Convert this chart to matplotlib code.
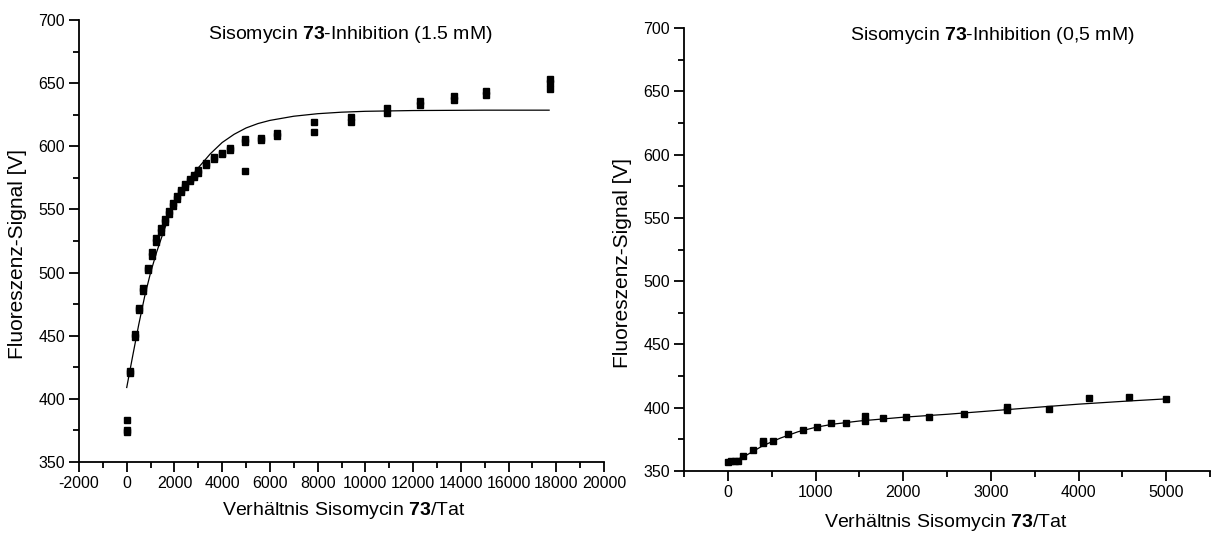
import matplotlib
matplotlib.use('Agg')
import matplotlib.pyplot as plt
from matplotlib.ticker import MultipleLocator

plt.rcParams['font.family'] = ['Liberation Sans', 'DejaVu Sans']
plt.rcParams['mathtext.fontset'] = 'custom'
plt.rcParams['mathtext.rm'] = 'Liberation Sans'
plt.rcParams['mathtext.bf'] = 'Liberation Sans:bold'
plt.rcParams['axes.unicode_minus'] = False

# left panel: 1.5 mM, measured points (replicates share x)
x_15 = [0, 0, 0, 155, 155, 342, 342, 513, 513, 700, 700, 872, 872,
        1042, 1042, 1230, 1230, 1418, 1418, 1589, 1589, 1760, 1760,
        1931, 1931, 2119, 2119, 2290, 2290, 2461, 2461, 2649, 2649,
        2803, 2803, 2974, 2974, 3315, 3315, 3657, 3657, 3982, 3982,
        4324, 4324, 4973, 4973, 4973, 5640, 5640, 6306, 6306,
        7861, 7861, 9382, 9382, 10886, 10886, 12305, 12305,
        13706, 13706, 15073, 15073, 17722, 17722, 17722]
y_15 = [383.5, 375.5, 373.5, 422, 420.5, 451.5, 449, 472, 470.5, 488, 485.5,
        504, 502, 516, 513, 527, 524.5, 535, 532, 542.5, 540, 548.5, 546,
        555, 553, 561, 558.5, 565.5, 563.5, 570, 568, 574, 572.5,
        577.5, 575.5, 581.5, 579, 586.5, 585, 591.5, 590, 595, 593.5,
        599, 597, 605.5, 603, 580.5, 606.5, 605, 610.5, 608,
        619.5, 611.5, 623.5, 619.5, 630, 626, 635.5, 632.5,
        640, 637, 644, 641, 653, 650.5, 645.5]

# left panel: fitted curve
fit_x_15 = [0, 250, 500, 750, 1000, 1250, 1500, 1750, 2000, 2500, 3000,
            3500, 4000, 4500, 5000, 5500, 6000, 7000, 8000, 9000, 10000,
            12000, 15000, 17700]
fit_y_15 = [409, 434, 458.5, 481, 500, 516, 530, 543, 554.5, 570.5, 583,
            594, 603, 609.5, 614.5, 618, 620.5, 623.8, 625.8, 627, 627.7,
            628.3, 628.6, 628.6]

# right panel: 0.5 mM
x_05 = [0, 40, 80, 120, 174, 289, 400, 400, 516, 681, 855, 1020, 1175,
        1349, 1563, 1563, 1768, 2030, 2289, 2694, 3183, 3183, 3664,
        4123, 4573, 5000]
y_05 = [357.3, 357.6, 357.8, 357.8, 362.2, 366.8, 372, 374, 373.8, 379.2,
        382.4, 385.1, 388.2, 387.8, 389.5, 393.5, 391.6, 392.7, 392.7,
        395.4, 398, 400.3, 399.2, 407.6, 408.1, 406.8]

fit_x_05 = [0, 200, 400, 600, 800, 1000, 1200, 1500, 2000, 2500, 3000,
            3500, 4000, 4500, 5000]
fit_y_05 = [356, 362, 370, 376, 381, 384.5, 387, 389.5, 392.5, 394.8,
            397.5, 400.2, 402.8, 405, 407]

ylabel = 'Fluoreszenz-Signal [V]'
xlabel = r'Verhältnis Sisomycin $\mathbf{73}$/Tat'


def style_axes(ax):
    for side in ('top', 'right'):
        ax.spines[side].set_visible(False)
    for side in ('left', 'bottom'):
        ax.spines[side].set_linewidth(1.3)
    ax.tick_params(which='major', direction='out', length=7, width=1.3,
                   labelsize=11.5, pad=3)
    ax.tick_params(which='minor', direction='out', length=4, width=1.3)
    ax.set_ylim(350, 700)
    ax.yaxis.set_major_locator(MultipleLocator(50))
    ax.yaxis.set_minor_locator(MultipleLocator(25))


fig = plt.figure(figsize=(12.12, 5.34), dpi=100)

ax1 = fig.add_axes([79 / 1212, 1 - 462 / 534, 525 / 1212, 442 / 534])
style_axes(ax1)
ax1.set_xlim(-2000, 20000)
ax1.xaxis.set_major_locator(MultipleLocator(2000))
ax1.xaxis.set_minor_locator(MultipleLocator(1000))
ax1.plot(fit_x_15, fit_y_15, color='black', lw=0.9, zorder=2)
ax1.plot(x_15, y_15, ls='none', marker='s', ms=4.6, color='black',
         clip_on=False, zorder=3)
ax1.text(0.516, 0.967, r'Sisomycin $\mathbf{73}$-Inhibition (1.5 mM)',
         transform=ax1.transAxes, ha='center', va='center', fontsize=14)
ax1.set_ylabel(ylabel, fontsize=15)
ax1.set_xlabel(xlabel, fontsize=14)
ax1.yaxis.set_label_coords(-0.099, 0.47)
ax1.xaxis.set_label_coords(0.504, -0.086)

ax2 = fig.add_axes([684 / 1212, 1 - 471 / 534, 526 / 1212, 443 / 534])
style_axes(ax2)
ax2.set_xlim(-500, 5500)
ax2.xaxis.set_major_locator(MultipleLocator(1000))
ax2.xaxis.set_minor_locator(MultipleLocator(500))
ax2.plot(fit_x_05, fit_y_05, color='black', lw=0.9, zorder=2)
ax2.plot(x_05, y_05, ls='none', marker='s', ms=4.6, color='black',
         clip_on=False, zorder=3)
ax2.text(0.587, 0.982, r'Sisomycin $\mathbf{73}$-Inhibition (0,5 mM)',
         transform=ax2.transAxes, ha='center', va='center', fontsize=14)
ax2.set_ylabel(ylabel, fontsize=15)
ax2.set_xlabel(xlabel, fontsize=14)
ax2.yaxis.set_label_coords(-0.099, 0.47)
ax2.xaxis.set_label_coords(0.498, -0.092)

fig.savefig('out.png', dpi=100)
